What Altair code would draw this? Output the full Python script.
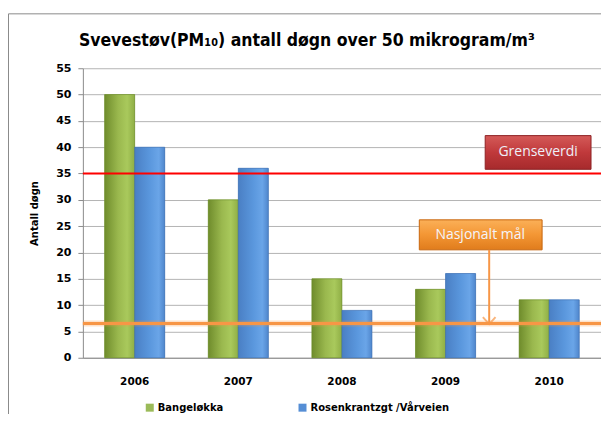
import altair as alt
import pandas as pd

# ---- data ----
years = ["2006", "2007", "2008", "2009", "2010"]
series_names = ["Bangeløkka", "Rosenkrantzgt /Vårveien"]
bangelokka = [50, 30, 15, 13, 11]
rosenkrantz = [40, 36, 9, 16, 11]
grenseverdi = 35
nasjonalt_mal = 6.5
grense_label = "Grenseverdi"
nasjonal_label = "Nasjonalt mål"
title_text = "Svevestøv(PM₁₀) antall døgn over 50 mikrogram/m³"
y_ticks = list(range(0, 56, 5))

rows = []
for i, yr in enumerate(years):
    rows.append({"year": yr, "series": series_names[0], "value": bangelokka[i]})
    rows.append({"year": yr, "series": series_names[1], "value": rosenkrantz[i]})
df = pd.DataFrame(rows)

W, H = 519, 290
AX_FONT = "DejaVu Sans"

x_scale = alt.Scale(paddingInner=0.42, paddingOuter=0.21)
x_axis = alt.Axis(labelAngle=0, ticks=False, domain=True, domainColor="#8c8c8c",
                  labelFont=AX_FONT, labelFontWeight="bold", labelFontSize=10.5,
                  labelColor="#000", labelPadding=19)
x_enc = alt.X("year:N", sort=years, title=None, scale=x_scale, axis=x_axis)
xoff = alt.XOffset("series:N", sort=series_names, scale=alt.Scale(domain=series_names))

y_scale = alt.Scale(domain=[0, 55], nice=False)
y_axis = alt.Axis(values=y_ticks, grid=True, gridColor="#b4b4b4", gridWidth=1,
                  domainColor="#8c8c8c", tickColor="#8c8c8c", tickSize=5,
                  labelOverlap=False,
                  labelFont=AX_FONT, labelFontWeight="bold", labelFontSize=11,
                  labelColor="#000", labelPadding=7,
                  titleFont=AX_FONT, titleFontWeight="bold", titleFontSize=10,
                  titleColor="#000", titlePadding=16)


def y_of(field):
    return alt.Y(field, title="Antall døgn", scale=y_scale, axis=y_axis)


base = alt.Chart(df)

# solid bars (give the legend)
bars = base.mark_bar().encode(
    x=x_enc, xOffset=xoff, y=y_of("value:Q"),
    color=alt.Color("series:N", sort=series_names,
                    scale=alt.Scale(domain=series_names, range=["#9bbb59", "#558ed5"]),
                    legend=alt.Legend(title=None, orient="none", direction="horizontal",
                                      legendX=62, legendY=335, symbolType="square",
                                      symbolSize=64, symbolStrokeWidth=0,
                                      labelFont=AX_FONT, labelFontWeight="bold",
                                      labelFontSize=10, labelColor="#000",
                                      labelOffset=3, columnPadding=74, labelLimit=300)),
)

green_grad = alt.Gradient(gradient="linear", x1=0, y1=0, x2=1, y2=0, stops=[
    alt.GradientStop(color="#6f8c2c", offset=0),
    alt.GradientStop(color="#9ab84e", offset=0.45),
    alt.GradientStop(color="#a9c95c", offset=0.75),
    alt.GradientStop(color="#8fae45", offset=1)])
blue_grad = alt.Gradient(gradient="linear", x1=0, y1=0, x2=1, y2=0, stops=[
    alt.GradientStop(color="#4a7fc4", offset=0),
    alt.GradientStop(color="#5a97dd", offset=0.5),
    alt.GradientStop(color="#6aa5e8", offset=0.8),
    alt.GradientStop(color="#4f86cc", offset=1)])

green_bars = base.transform_filter(alt.datum.series == series_names[0]).mark_bar(
    fill=green_grad, stroke="#6a8a2a", strokeWidth=0.6).encode(
    x=x_enc, xOffset=xoff, y=y_of("value:Q"))
blue_bars = base.transform_filter(alt.datum.series == series_names[1]).mark_bar(
    fill=blue_grad, stroke="#3f70b0", strokeWidth=0.6).encode(
    x=x_enc, xOffset=xoff, y=y_of("value:Q"))

# reference lines
red_line = alt.Chart(pd.DataFrame({"value": [grenseverdi]})).mark_rule(
    color="#ff0000", strokeWidth=2).encode(y=y_of("value:Q"))
orange_glow = alt.Chart(pd.DataFrame({"value": [nasjonalt_mal]})).mark_rule(
    color="#f79646", strokeWidth=6, opacity=0.28).encode(y=y_of("value:Q"))
orange_line = alt.Chart(pd.DataFrame({"value": [nasjonalt_mal]})).mark_rule(
    color="#f79646", strokeWidth=3).encode(y=y_of("value:Q"))

# annotation boxes (y in data units)
red_grad = alt.Gradient(gradient="linear", x1=0, y1=0, x2=0, y2=1, stops=[
    alt.GradientStop(color="#d45a58", offset=0),
    alt.GradientStop(color="#c0393b", offset=0.5),
    alt.GradientStop(color="#a62a2c", offset=1)])
orange_grad = alt.Gradient(gradient="linear", x1=0, y1=0, x2=0, y2=1, stops=[
    alt.GradientStop(color="#fbb058", offset=0),
    alt.GradientStop(color="#f39634", offset=0.5),
    alt.GradientStop(color="#e07c1c", offset=1)])

red_box = alt.Chart(pd.DataFrame({"value": [42.2], "bottom": [35.8]})).mark_rect(
    fill=red_grad, stroke="#8e2224", strokeWidth=1).encode(
    x=alt.value(403), x2=alt.value(509), y=y_of("value:Q"), y2="bottom:Q")
red_text = alt.Chart(pd.DataFrame({"value": [39.0], "t": [grense_label]})).mark_text(
    font="Open Sans", fontSize=14, color="#eef0f8", baseline="middle").encode(
    x=alt.value(456), y=y_of("value:Q"), text="t:N")

orange_box = alt.Chart(pd.DataFrame({"value": [26.2], "bottom": [20.5]})).mark_rect(
    fill=orange_grad, stroke="#c8660e", strokeWidth=1).encode(
    x=alt.value(337), x2=alt.value(460), y=y_of("value:Q"), y2="bottom:Q")
orange_text = alt.Chart(pd.DataFrame({"value": [23.4], "t": [nasjonal_label]})).mark_text(
    font="Open Sans", fontSize=14, color="#f4f4fa", baseline="middle").encode(
    x=alt.value(398), y=y_of("value:Q"), text="t:N")

arrow = alt.Chart(pd.DataFrame({"value": [20.5], "b": [6.4]})).mark_rule(
    color="#f79646", strokeWidth=2).encode(x=alt.value(407), y=y_of("value:Q"), y2="b:Q")
arrow_head = alt.Chart(pd.DataFrame({"value": [6.4]})).mark_point(
    shape="M-1,-1.1L0,0L1,-1.1", filled=False, stroke="#f79646", strokeWidth=2, size=160).encode(
    x=alt.value(407), y=y_of("value:Q"))

# title as text above the plot
title_mark = alt.Chart(pd.DataFrame({"t": [title_text]})).mark_text(
    font="Liberation Sans Narrow, DejaVu Sans Condensed, Arial Narrow, sans-serif",
    fontSize=17.5, fontWeight="bold", color="#000", align="left", baseline="alphabetic").encode(
    x=alt.value(-4), y=alt.value(-22), text="t:N")

# outer chart frame
frame_v = alt.Chart(pd.DataFrame({"a": [0]})).mark_rule(color="#8a8a8a", strokeWidth=1).encode(
    x=alt.value(-74.5), y=alt.value(-54.5), y2=alt.value(H + 60))
frame_h = alt.Chart(pd.DataFrame({"a": [0]})).mark_rule(color="#8a8a8a", strokeWidth=1).encode(
    x=alt.value(-74.5), x2=alt.value(W + 20), y=alt.value(-54.5))

chart = alt.layer(
    bars, green_bars, blue_bars, orange_glow, orange_line, red_line,
    red_box, red_text, orange_box, orange_text, arrow, arrow_head,
    title_mark, frame_v, frame_h
).properties(
    width=W, height=H,
    autosize=alt.AutoSizeParams(type="none"),
    padding={"left": 75, "top": 60, "right": 0, "bottom": 56},
).configure_view(stroke=None)

chart.save("out.html", embed_options={"renderer": "svg", "actions": False})
